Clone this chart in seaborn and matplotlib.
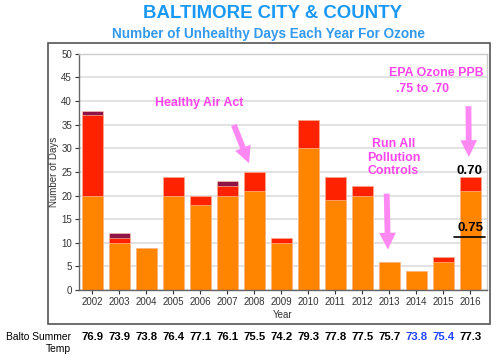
import matplotlib
matplotlib.use('Agg')
import matplotlib.pyplot as plt
import seaborn as sns
import numpy as np
import pandas as pd
from matplotlib.patches import Rectangle
from matplotlib.transforms import blended_transform_factory

years = ['2002', '2003', '2004', '2005', '2006', '2007', '2008', '2009',
         '2010', '2011', '2012', '2013', '2014', '2015', '2016']
orange_days = [20, 10, 9, 20, 18, 20, 21, 10, 30, 19, 20, 6, 4, 6, 21]
red_days = [17, 1, 0, 4, 2, 2, 4, 1, 6, 5, 2, 0, 0, 1, 3]
maroon_days = [1, 1, 0, 0, 0, 1, 0, 0, 0, 0, 0, 0, 0, 0, 0]
summer_temp = ['76.9', '73.9', '73.8', '76.4', '77.1', '76.1', '75.5', '74.2',
               '79.3', '77.8', '77.5', '75.7', '73.8', '75.4', '77.3']
blue_years = ['2014', '2015']

sns.set_theme(style='whitegrid')
plt.rcParams['font.family'] = ['Liberation Sans', 'DejaVu Sans']

df = pd.DataFrame({'year': years, 'orange': orange_days,
                   'red': red_days, 'maroon': maroon_days})
df['lvl2'] = df['orange'] + df['red']
df['lvl3'] = df['lvl2'] + df['maroon']

fig = plt.figure(figsize=(5, 3.59), dpi=100)
ax = fig.add_axes([0.158, 0.192, 0.816, 0.658])

# stacked bars drawn back to front
sns.barplot(data=df, x='year', y='lvl3', color='#8e1446', width=0.78,
            saturation=1, ax=ax, edgecolor='#ffd0b0', linewidth=0.4)
sns.barplot(data=df, x='year', y='lvl2', color='#ff2200', width=0.78,
            saturation=1, ax=ax, edgecolor='#ffd0b0', linewidth=0.4)
sns.barplot(data=df, x='year', y='orange', color='#ff8400', width=0.78,
            saturation=1, ax=ax, edgecolor='#ffd0b0', linewidth=0.4)

ax.set_ylim(0, 50)
ax.set_xlim(-0.5, 14.62)
ax.set_yticks(range(0, 51, 5))
ax.grid(axis='y', color='#dddddd', linewidth=1.2)
ax.grid(axis='x', visible=False)
ax.set_facecolor('white')
for s in ['top', 'right']:
    ax.spines[s].set_color('#cccccc')
    ax.spines[s].set_linewidth(1)
for s in ['left', 'bottom']:
    ax.spines[s].set_color('#666666')
    ax.spines[s].set_linewidth(1)
ax.tick_params(axis='both', labelsize=7, colors='#333333', length=3,
               width=0.8, pad=2, left=True, bottom=True)
ax.set_xlabel('Year', fontsize=7, color='#333333', labelpad=2)
ax.set_ylabel('Number of Days', fontsize=7, color='#333333', labelpad=2)

# outer frame
fig.patches.append(Rectangle((0.096, 0.0975), 0.884, 0.783, transform=fig.transFigure,
                             fill=False, edgecolor='#555555', linewidth=1.2))

fig.text(0.545, 0.962, 'BALTIMORE CITY & COUNTY', ha='center', va='center',
         fontsize=13.4, fontweight='bold', color='#1a98f5')
fig.text(0.538, 0.905, 'Number of Unhealthy Days Each Year For Ozone', ha='center',
         va='center', fontsize=9.8, fontweight='bold', color='#3399ee')

pink = '#ff44ee'
arrow_pink = '#ff88f2'
aprops = dict(arrowstyle='simple,head_width=1.0,head_length=1.0,tail_width=0.35',
              color=arrow_pink, lw=0)
ax.text(3.95, 39.6, 'Healthy Air Act', ha='center', va='center', fontsize=8.9,
        fontweight='bold', color=pink)
ax.annotate('', xy=(5.84, 26.3), xytext=(5.2, 35.5), arrowprops=aprops)
ax.text(11.15, 28, 'Run All\nPollution\nControls', ha='center', va='center',
        fontsize=8.9, fontweight='bold', color=pink, linespacing=1.15)
ax.annotate('', xy=(10.95, 8), xytext=(10.9, 21), arrowprops=aprops)
ax.text(12.74, 46, 'EPA Ozone PPB', ha='center', va='center', fontsize=8.9,
        fontweight='bold', color=pink)
ax.text(12.22, 42.6, '.75 to .70', ha='center', va='center', fontsize=8.9,
        fontweight='bold', color=pink)
ax.annotate('', xy=(13.95, 27.6), xytext=(13.93, 39.5), arrowprops=aprops)

ax.text(13.97, 25.2, '0.70', ha='center', va='center', fontsize=9.5,
        fontweight='bold', color='black')
ax.text(14.0, 13.1, '0.75', ha='center', va='center', fontsize=9.5,
        fontweight='bold', color='black')
ax.plot([13.41, 14.56], [11.3, 11.3], color='black', lw=1.2, clip_on=False)

# summer temperature row
tr = blended_transform_factory(ax.transData, fig.transFigure)
for i, (yr, t) in enumerate(zip(years, summer_temp)):
    c = '#2244ff' if yr in blue_years else 'black'
    ax.text(i, 0.061, t, transform=tr, ha='center', va='center', fontsize=8.2,
            fontweight='bold', color=c, clip_on=False)
fig.text(0.141, 0.061, 'Balto Summer', ha='right', va='center', fontsize=7.4, color='black')
fig.text(0.141, 0.027, 'Temp', ha='right', va='center', fontsize=7.4, color='black')

fig.savefig('out.png', dpi=100)
